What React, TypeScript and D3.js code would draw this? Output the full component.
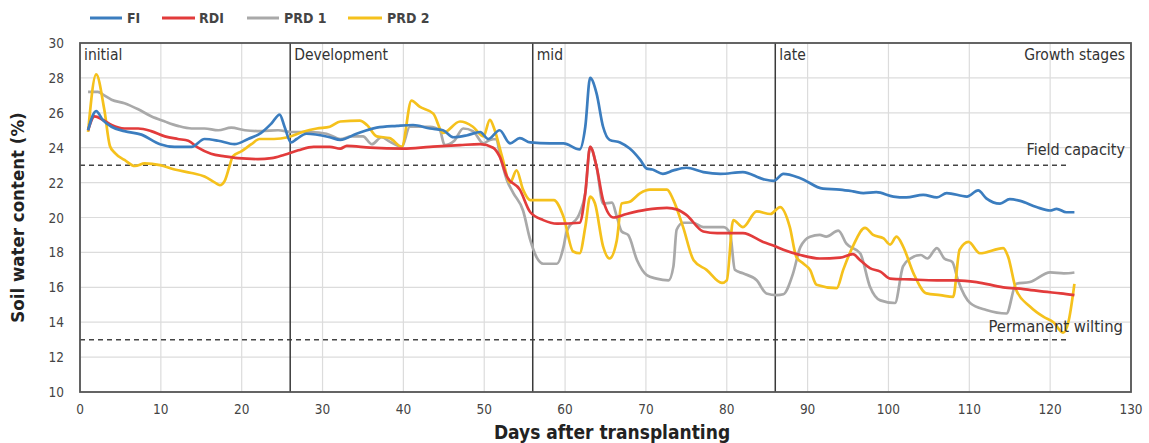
import * as d3 from "d3";

// growth stage boundaries (days) and labels
const stageStarts = [26, 56, 86];
const stageLabels = [
  { day: 0, text: "initial" },
  { day: 26, text: "Development" },
  { day: 56, text: "mid" },
  { day: 86, text: "late" },
];

const xTicks = d3.range(0, 131, 10);
const yTicks = d3.range(10, 31, 2);

const fieldCapacity = 23;
const permanentWilting = 13;

// [day, soil water content %]
const fiData: [number, number][] = [
  [1, 25.0], [2, 26.1], [2.8, 25.6], [3.9, 25.2], [5.5, 24.95], [7.6, 24.75], [9.9, 24.2], [11.7, 24.05],
  [13.8, 24.05], [15.4, 24.5], [17.1, 24.4], [19.1, 24.2], [20.8, 24.5], [22.4, 24.85], [23.7, 25.4],
  [24.7, 25.9], [25.3, 25.2], [26.1, 24.3], [26.8, 24.5], [28, 24.8], [30.9, 24.6], [32.2, 24.45],
  [34.2, 24.8], [36.7, 25.15], [39.2, 25.25], [41.2, 25.3], [43.3, 25.1], [44.9, 25.0], [46.2, 24.6],
  [47.8, 24.7], [49.5, 24.9], [50.5, 24.5], [51.9, 25.0], [53.2, 24.25], [54.4, 24.55], [55.7, 24.3],
  [58.1, 24.25], [59.8, 24.25], [61.8, 23.9], [62.5, 25.2], [63.1, 28.0], [63.9, 27.1], [64.7, 25.2],
  [65.5, 24.45], [66.8, 24.3], [68, 23.95], [69.3, 23.3], [70.1, 22.8], [70.8, 22.75], [72.1, 22.5],
  [73.4, 22.7], [75, 22.85], [77.1, 22.6], [79.2, 22.5], [82, 22.6], [84.5, 22.2], [85.8, 22.1],
  [87, 22.5], [89.1, 22.25], [91.9, 21.65], [94, 21.6], [95.6, 21.5], [96.9, 21.4], [98.5, 21.45],
  [100.6, 21.2], [102.2, 21.15], [104.3, 21.3], [106, 21.15], [107.2, 21.4], [109.7, 21.2], [111.1, 21.55],
  [112.1, 21.1], [113.8, 20.8], [115, 21.05], [116.3, 20.95], [118.3, 20.6], [120, 20.4], [120.8, 20.5],
  [122, 20.3], [123, 20.3],
];

const rdiData: [number, number][] = [
  [1, 25.0], [1.8, 25.8], [2.8, 25.6], [3.9, 25.3], [5.5, 25.1], [7.2, 25.1], [8.8, 24.95], [10.5, 24.65],
  [12.1, 24.5], [13.4, 24.4], [14.6, 24.0], [16.2, 23.65], [17.9, 23.5], [19.5, 23.4], [22, 23.35],
  [23.7, 23.4], [25.3, 23.6], [27, 23.85], [28.9, 24.05], [30.9, 24.05], [32.2, 23.95], [33, 24.1],
  [35.9, 24.0], [40, 23.95], [43.3, 24.05], [47, 24.15], [49.5, 24.2], [51.1, 24.0], [51.9, 23.5],
  [52.8, 22.35], [54.4, 21.6], [55.7, 20.3], [57.3, 19.85], [59, 19.65], [61.8, 19.7], [62.5, 21.4],
  [63.1, 24.05], [63.9, 22.9], [64.7, 21.0], [66, 20.0], [67.6, 20.2], [70.1, 20.45], [72.6, 20.55],
  [73.9, 20.45], [75, 20.15], [77.1, 19.2], [78.8, 19.1], [82, 19.1], [84.5, 18.6], [86, 18.35],
  [87, 18.15], [89.1, 17.85], [91.5, 17.65], [94, 17.7], [95.6, 17.9], [96.5, 17.55], [97.7, 17.1],
  [99, 16.9], [100.2, 16.5], [102.7, 16.45], [106, 16.4], [108.4, 16.4], [110.9, 16.3], [114.2, 16.0],
  [116.7, 15.9], [119.2, 15.75], [121.3, 15.65], [123, 15.55],
];

const prd1Data: [number, number][] = [
  [1, 27.2], [2.2, 27.2], [3.0, 27.0], [3.9, 26.75], [5.5, 26.55], [7.2, 26.2], [8.8, 25.8], [10.5, 25.5],
  [12.1, 25.25], [13.8, 25.1], [15.4, 25.1], [17.1, 25.0], [18.7, 25.15], [20.4, 25.0], [22.4, 24.95],
  [24.5, 25.0], [26.2, 24.9], [28.5, 24.9], [30.5, 24.8], [32.2, 24.5], [33.6, 24.65], [35, 24.65],
  [36.1, 24.2], [37.3, 24.6], [38.3, 24.35], [39.8, 24.05], [40.8, 25.2], [43.3, 25.2], [44.5, 25.0],
  [45.1, 24.15], [46.3, 24.4], [47.4, 25.1], [48.6, 24.95], [49.9, 24.25], [50.7, 24.45], [51.5, 24.5],
  [51.9, 23.7], [52.8, 22.15], [53.6, 21.4], [54.8, 20.4], [55.7, 18.7], [56.5, 17.7], [57.3, 17.35],
  [59, 17.35], [59.8, 18.3], [60.2, 19.2], [61.8, 20.25], [62.5, 21.4], [63.1, 24.05], [63.9, 22.9],
  [64.7, 20.8], [65.8, 20.85], [66.4, 20.05], [67, 19.2], [67.8, 19.0], [68.9, 17.55], [70.1, 16.7],
  [71.3, 16.5], [72.8, 16.4], [73.4, 17.2], [73.8, 19.3], [74.6, 19.7], [75.8, 19.7], [77.1, 19.45],
  [79.6, 19.45], [80.4, 19.1], [81, 17.0], [82, 16.8], [83.7, 16.4], [84.9, 15.65], [86.2, 15.55],
  [87, 15.6], [88.2, 16.8], [89.1, 18.3], [90.3, 18.9], [91.5, 19.0], [92.3, 18.9], [93.8, 19.25],
  [94.8, 18.5], [96.5, 17.95], [97.7, 16.05], [99, 15.25], [100.8, 15.1], [101.8, 17.2], [102.7, 17.65],
  [104, 17.85], [104.8, 17.65], [106, 18.25], [106.9, 17.65], [107.9, 17.45], [108.6, 16.4], [110.1, 15.1],
  [112.1, 14.7], [114.6, 14.5], [115.8, 16.2], [117.5, 16.3], [120, 16.85], [121.7, 16.8], [123, 16.85],
];

const prd2Data: [number, number][] = [
  [1, 24.9], [2, 28.2], [3, 26.2], [3.7, 24.1], [4.3, 23.7], [5.5, 23.3], [6.8, 22.95], [8, 23.1],
  [9.9, 23.0], [11.7, 22.75], [13.8, 22.55], [15.4, 22.35], [16.7, 22.0], [17.3, 21.85], [17.9, 22.1],
  [18.5, 22.95], [18.9, 23.5], [20, 23.8], [21.2, 24.2], [22.2, 24.5], [24, 24.5], [25.7, 24.6],
  [27.5, 24.9], [29.3, 25.1], [30.9, 25.2], [32.2, 25.5], [34.6, 25.55], [35.5, 25.3], [36.7, 24.65],
  [38.3, 24.55], [39.8, 24.05], [41, 26.7], [42, 26.35], [43.7, 25.95], [44.9, 24.85], [47, 25.5],
  [48.6, 25.2], [49.9, 24.65], [50.7, 25.6], [51.3, 25.0], [52.2, 23.5], [53.2, 22.0], [54, 22.7],
  [54.8, 21.6], [55.7, 21.0], [58.6, 21.0], [59.8, 20.05], [61, 18.05], [61.8, 17.95], [62.5, 19.45],
  [63.1, 21.2], [63.7, 20.8], [64.7, 18.35], [65.5, 17.65], [66.4, 18.7], [67, 20.8], [68, 20.9],
  [69.3, 21.4], [70.5, 21.6], [72.6, 21.6], [73.4, 21.0], [74.6, 19.45], [75.9, 17.55], [77.5, 17.0],
  [79.4, 16.25], [80, 16.4], [80.8, 19.85], [82, 19.45], [83.7, 20.35], [85.4, 20.2], [86.6, 20.6],
  [87.8, 19.45], [88.6, 17.75], [89.5, 17.35], [90.3, 17.0], [91.1, 16.15], [93.6, 15.95], [94.4, 17.0],
  [95.6, 18.35], [97.1, 19.4], [98.1, 19.0], [99.4, 18.8], [100.2, 18.45], [101, 18.9], [101.8, 18.35],
  [103.1, 16.8], [104.7, 15.65], [106.4, 15.55], [108, 15.45], [108.8, 18.15], [109.9, 18.6], [111.3, 17.95],
  [114.2, 18.25], [114.8, 17.75], [115.8, 15.85], [117.5, 14.9], [119.2, 14.3], [120.4, 14.0], [121.6, 13.4],
  [122.3, 14.1], [123, 16.2],
];

const series = [
  { name: "FI", color: "#3b7dbf", data: fiData },
  { name: "RDI", color: "#e23b3b", data: rdiData },
  { name: "PRD 1", color: "#a9a9a9", data: prd1Data },
  { name: "PRD 2", color: "#f5c11c", data: prd2Data },
];
// draw order: grey and yellow below, blue on top like the figure
const drawOrder = [2, 3, 1, 0];

const width = 1149;
const height = 443;
const margin = { top: 43, right: 18, bottom: 51, left: 80 };
const font = "'Liberation Sans Narrow', 'DejaVu Sans Condensed', 'Liberation Sans', sans-serif";

export default function App() {
  const x = d3.scaleLinear().domain([0, 130]).range([margin.left, width - margin.right]);
  const y = d3.scaleLinear().domain([10, 30]).range([height - margin.bottom, margin.top]);

  const line = d3.line<[number, number]>()
    .x(d => x(d[0]))
    .y(d => y(d[1]))
    .curve(d3.curveMonotoneX);

  const legendItems = [
    { x0: 90, x1: 122, tx: 127 },
    { x0: 162, x1: 195, tx: 199 },
    { x0: 247, x1: 279, tx: 284 },
    { x0: 348, x1: 382, tx: 387 },
  ];

  return (
    <div style={{ position: "absolute", left: 0, top: 0 }}>
      <svg width={width} height={height} style={{ display: "block", background: "#fff", fontFamily: font }}>
        {/* grid */}
        {yTicks.map(t => (
          <line key={"gy" + t} x1={x(0)} x2={x(130)} y1={y(t)} y2={y(t)} stroke="#dcdcdc" strokeWidth={1.2} />
        ))}
        {xTicks.map(t => (
          <line key={"gx" + t} x1={x(t)} x2={x(t)} y1={y(10)} y2={y(30)} stroke="#dcdcdc" strokeWidth={1.2} />
        ))}

        {/* threshold lines */}
        <line x1={x(0)} x2={x(122)} y1={y(fieldCapacity)} y2={y(fieldCapacity)}
          stroke="#444" strokeWidth={1.5} strokeDasharray="5,4" />
        <line x1={x(0)} x2={x(122)} y1={y(permanentWilting)} y2={y(permanentWilting)}
          stroke="#444" strokeWidth={1.5} strokeDasharray="5,4" />

        {/* stage boundaries */}
        {stageStarts.map(d => (
          <line key={"st" + d} x1={x(d)} x2={x(d)} y1={y(10)} y2={y(30)} stroke="#3a3a3a" strokeWidth={1.5} />
        ))}

        {/* series */}
        {drawOrder.map(i => (
          <path key={series[i].name} d={line(series[i].data) || ""} fill="none"
            stroke={series[i].color} strokeWidth={2.7} strokeLinejoin="round" />
        ))}

        {/* frame */}
        <rect x={x(0)} y={y(30)} width={x(130) - x(0)} height={y(10) - y(30)}
          fill="none" stroke="#555" strokeWidth={1.8} />

        {/* stage labels */}
        {stageLabels.map(s => (
          <text key={s.text} x={x(s.day) + 4} y={y(30) + 17} fontSize={15.5} fill="#333">{s.text}</text>
        ))}
        <text x={x(130) - 6} y={y(30) + 17} fontSize={15.5} fill="#333" textAnchor="end">Growth stages</text>
        <text x={x(130) - 6} y={y(fieldCapacity) - 10} fontSize={16} fill="#333" textAnchor="end">Field capacity</text>
        <text x={x(130) - 8} y={y(permanentWilting) - 8} fontSize={16.5} fill="#333" textAnchor="end">Permanent wilting</text>

        {/* y ticks */}
        {yTicks.map(t => (
          <text key={"yt" + t} x={x(0) - 16} y={y(t) + 5} fontSize={13.5} fill="#444" textAnchor="end">{t}</text>
        ))}
        {/* x ticks */}
        {xTicks.map(t => (
          <text key={"xt" + t} x={x(t)} y={y(10) + 22} fontSize={13.5} fill="#444" textAnchor="middle">{t}</text>
        ))}

        {/* axis titles */}
        <text x={612} y={439} fontSize={19} fontWeight="bold" fill="#222" textAnchor="middle">Days after transplanting</text>
        <text transform={`translate(24, ${(y(10) + y(30)) / 2}) rotate(-90)`} fontSize={18.5} fontWeight="bold"
          fill="#222" textAnchor="middle">Soil water content (%)</text>

        {/* legend */}
        {series.map((s, i) => (
          <g key={"lg" + s.name}>
            <line x1={legendItems[i].x0} x2={legendItems[i].x1} y1={18} y2={18} stroke={s.color} strokeWidth={3} />
            <text x={legendItems[i].tx} y={23} fontSize={14} fontWeight="bold" fill="#444">{s.name}</text>
          </g>
        ))}
      </svg>
    </div>
  );
}
